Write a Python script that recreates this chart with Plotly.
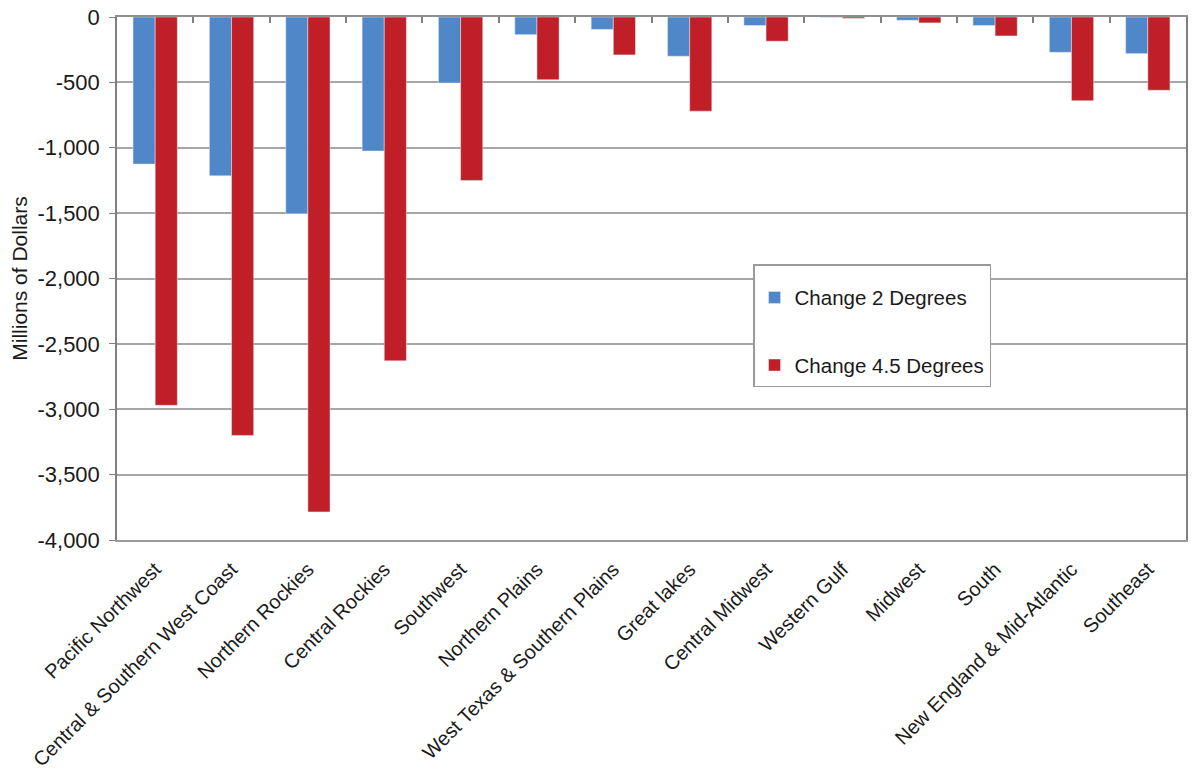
import plotly.graph_objects as go

regions = ["Pacific Northwest", "Central & Southern West Coast", "Northern Rockies",
           "Central Rockies", "Southwest", "Northern Plains", "West Texas & Southern Plains",
           "Great lakes", "Central Midwest", "Western Gulf", "Midwest", "South",
           "New England & Mid-Atlantic", "Southeast"]
change_2 = [-1125, -1215, -1505, -1025, -505, -135, -95, -300, -65, -3, -25, -65, -270, -280]
change_45 = [-2970, -3200, -3785, -2630, -1250, -480, -290, -720, -185, -10, -45, -145, -640, -560]
y_ticks = [0, -500, -1000, -1500, -2000, -2500, -3000, -3500, -4000]
y_tick_text = [f"{v:,}" for v in y_ticks]

FONT = "Liberation Sans, Arial, sans-serif"

fig = go.Figure()
fig.add_trace(go.Bar(x=regions, y=change_2, name="Change 2 Degrees",
                     marker=dict(color="#4F87C8"), legendgroup="a"))
fig.add_trace(go.Bar(x=regions, y=change_45, name="Change 4.5 Degrees",
                     marker=dict(color="#C01F27"), legendgroup="b"))
# invisible helper trace to carry the top (zero-line) axis with its tick marks
fig.add_trace(go.Scatter(x=regions, y=[0] * len(regions), xaxis="x2", mode="markers",
                         marker=dict(opacity=0), showlegend=False, hoverinfo="skip"))

fig.update_layout(
    width=1193, height=781,
    margin=dict(l=117, r=5, t=16, b=241),
    paper_bgcolor="white", plot_bgcolor="white",
    barmode="group", bargap=0.42, bargroupgap=0,
    font=dict(family=FONT, color="#1a1a1a", size=19),
    showlegend=True,
    legend=dict(x=0.595, y=0.527, xanchor="left", yanchor="top",
                bgcolor="white", bordercolor="#9a9a9a", borderwidth=1.5,
                font=dict(size=20.5, family=FONT), tracegroupgap=38,
                itemwidth=30,
                title=dict(text=" ", font=dict(size=9, family=FONT))),
    xaxis=dict(type="category", tickangle=-45, tickfont=dict(size=20, family=FONT),
               showline=True, linecolor="#9a9a9a", linewidth=1.5,
               showgrid=False, ticks="", range=[-0.5, 13.5],
               ticklabelshift=0, ticklabelstandoff=8, automargin=False),
    xaxis2=dict(type="category", overlaying="x", side="top", matches="x",
                showticklabels=False, ticks="inside", ticklen=6, tickcolor="#808080",
                tickwidth=1.5, tickson="boundaries", showline=True, linecolor="#909090",
                linewidth=1.5, showgrid=False),
    yaxis=dict(range=[-4000, 0], tickmode="array", tickvals=y_ticks, ticktext=y_tick_text,
               tickfont=dict(size=22, family=FONT), ticklabelstandoff=5,
               showgrid=True, gridcolor="#a6a6a6", gridwidth=1.5,
               showline=True, linecolor="#808080", linewidth=1.5, mirror=True,
               ticks="outside", ticklen=6, tickcolor="#808080",
               zeroline=False,
               title=dict(text="Millions of Dollars", font=dict(size=21, family=FONT),
                          standoff=4)),
)

fig.write_html("out.html", config={"displayModeBar": False},
               post_script="document.body.style.margin='0px';")
